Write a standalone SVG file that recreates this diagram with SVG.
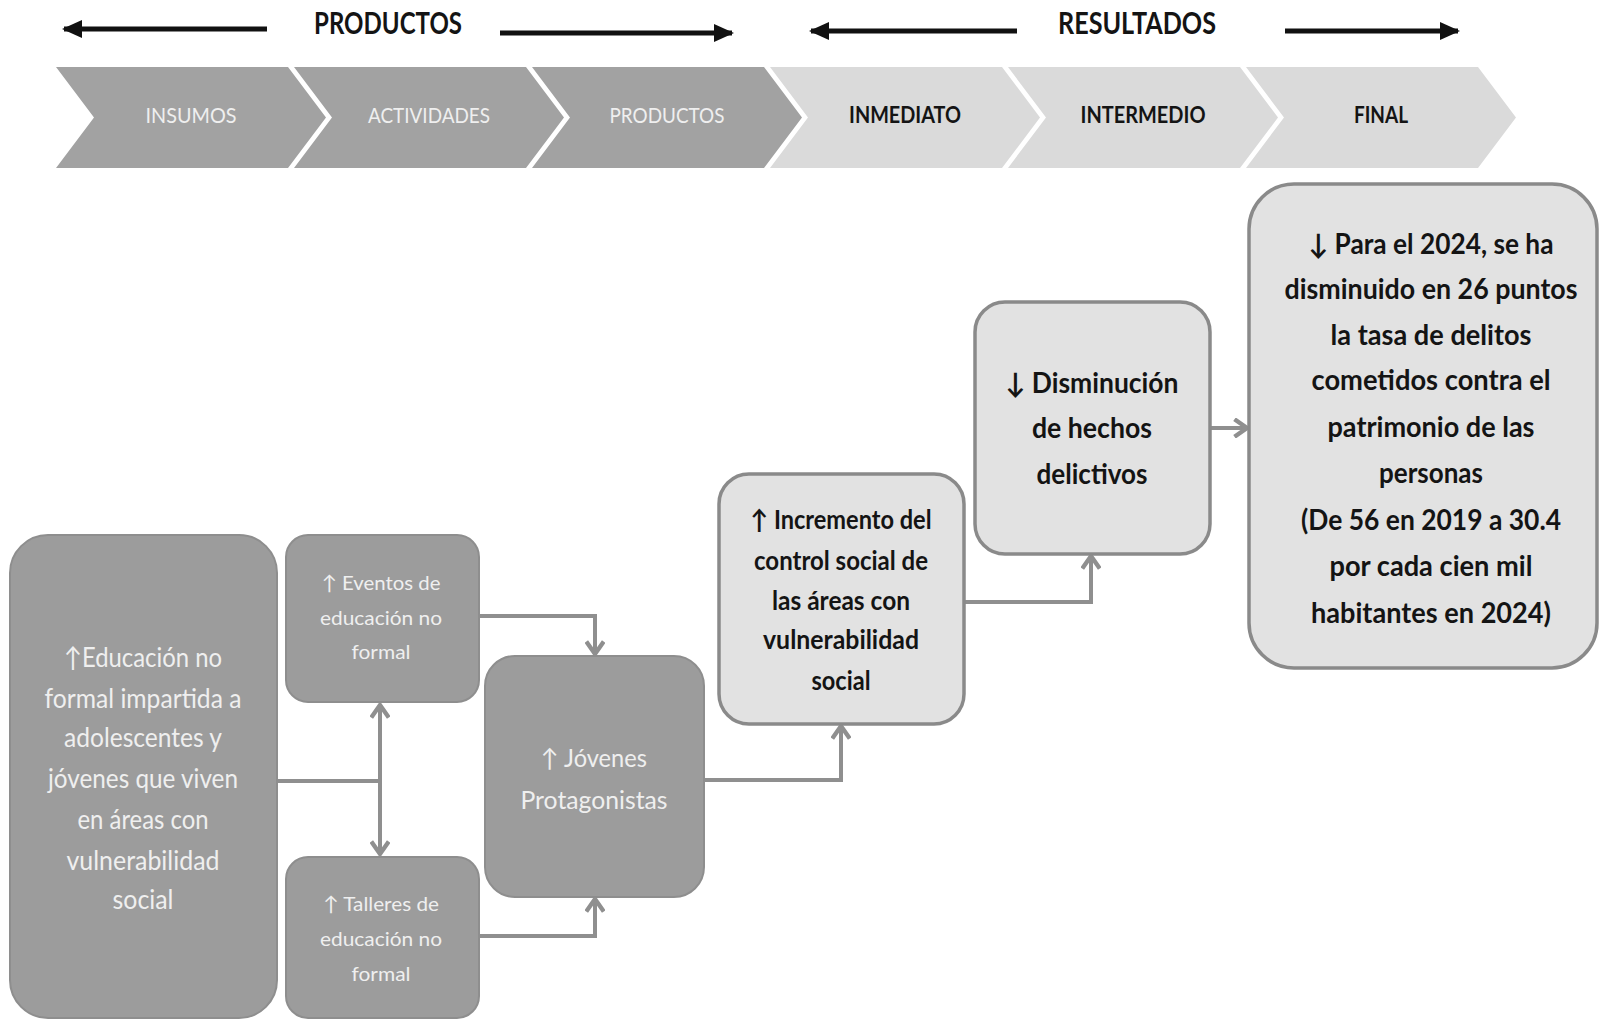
<svg xmlns="http://www.w3.org/2000/svg" width="1599" height="1020" viewBox="0 0 1599 1020">
<defs>
<style>
.dark{fill:#9c9c9c;stroke:#8e8e8e;stroke-width:2}
.light{fill:#e2e2e2;stroke:#8a8a8a;stroke-width:3.5}
.chevD{fill:#a2a2a2}
.chevL{fill:#dadada}
.tl{font-family:Lato,"Open Sans",sans-serif;fill:#efefef;text-anchor:middle}
.tb{font-family:Lato,"Open Sans",sans-serif;font-weight:bold;fill:#141414;text-anchor:middle}
.conn{fill:none;stroke:#8f8f8f;stroke-width:4}
.blk{fill:none;stroke:#111;stroke-width:5}
</style>
<marker id="ah" markerUnits="userSpaceOnUse" markerWidth="20" markerHeight="20" refX="12" refY="8" orient="auto-start-reverse" viewBox="0 0 16 16">
<path d="M2,1 L12,8 L2,15" fill="none" stroke="#8f8f8f" stroke-width="3.5"/>
</marker>
<marker id="bh" markerUnits="userSpaceOnUse" markerWidth="20" markerHeight="18" refX="18" refY="9" orient="auto-start-reverse" viewBox="0 0 20 18">
<path d="M0,0 L20,9 L0,18 Z" fill="#111"/>
</marker>
</defs>

<g id="header">
<path class="blk" d="M267,29 H64" marker-end="url(#bh)"/>
<text class="tb" x="388" y="34" font-size="30" textLength="148" lengthAdjust="spacingAndGlyphs">PRODUCTOS</text>
<path class="blk" d="M500,33 H732" marker-end="url(#bh)"/>
<path class="blk" d="M1017,31 H811" marker-end="url(#bh)"/>
<text class="tb" x="1137" y="34" font-size="30" textLength="158" lengthAdjust="spacingAndGlyphs">RESULTADOS</text>
<path class="blk" d="M1285,31 H1458" marker-end="url(#bh)"/>
</g>

<g id="chevrons">
<g id="chev-insumos"><polygon class="chevD" points="56,67 288,67 326,117.5 288,168 56,168 94,117.5"/><text class="tl" x="191" y="123" font-size="22" textLength="91" lengthAdjust="spacingAndGlyphs">INSUMOS</text></g>
<g id="chev-actividades"><polygon class="chevD" points="294,67 526,67 564,117.5 526,168 294,168 332,117.5"/><text class="tl" x="429" y="123" font-size="22" textLength="122" lengthAdjust="spacingAndGlyphs">ACTIVIDADES</text></g>
<g id="chev-productos"><polygon class="chevD" points="532,67 764,67 802,117.5 764,168 532,168 570,117.5"/><text class="tl" x="667" y="123" font-size="22" textLength="115" lengthAdjust="spacingAndGlyphs">PRODUCTOS</text></g>
<g id="chev-inmediato"><polygon class="chevL" points="770,67 1002,67 1040,117.5 1002,168 770,168 808,117.5"/><text class="tb" x="905" y="123" font-size="22" textLength="112" lengthAdjust="spacingAndGlyphs">INMEDIATO</text></g>
<g id="chev-intermedio"><polygon class="chevL" points="1008,67 1240,67 1278,117.5 1240,168 1008,168 1046,117.5"/><text class="tb" x="1143" y="123" font-size="22" textLength="125" lengthAdjust="spacingAndGlyphs">INTERMEDIO</text></g>
<g id="chev-final"><polygon class="chevL" points="1246,67 1478,67 1516,117.5 1478,168 1246,168 1284,117.5"/><text class="tb" x="1381" y="123" font-size="22" textLength="54" lengthAdjust="spacingAndGlyphs">FINAL</text></g>
</g>

<g id="connectors">
<path class="conn" d="M277,781 H380"/>
<path class="conn" d="M380,705 V854" marker-start="url(#ah)" marker-end="url(#ah)"/>
<path class="conn" d="M479,616 H595 V654" marker-end="url(#ah)"/>
<path class="conn" d="M479,936 H595 V899" marker-end="url(#ah)"/>
<path class="conn" d="M704,780 H841 V726" marker-end="url(#ah)"/>
<path class="conn" d="M964,602 H1091 V556" marker-end="url(#ah)"/>
<path class="conn" d="M1210,428 H1247" marker-end="url(#ah)"/>
</g>

<g id="n-educacion">
<rect class="dark" x="10" y="535" width="267" height="483" rx="38"/>
<text class="tl" x="143" y="667" font-size="27" textLength="158" lengthAdjust="spacingAndGlyphs">↑Educación no</text>
<text class="tl" x="143" y="708" font-size="27" textLength="197" lengthAdjust="spacingAndGlyphs">formal impartida a</text>
<text class="tl" x="143" y="747" font-size="27" textLength="158" lengthAdjust="spacingAndGlyphs">adolescentes y</text>
<text class="tl" x="143" y="788" font-size="27" textLength="190" lengthAdjust="spacingAndGlyphs">jóvenes que viven</text>
<text class="tl" x="143" y="829" font-size="27" textLength="131" lengthAdjust="spacingAndGlyphs">en áreas con</text>
<text class="tl" x="143" y="870" font-size="27" textLength="153" lengthAdjust="spacingAndGlyphs">vulnerabilidad</text>
<text class="tl" x="143" y="909" font-size="27" textLength="61" lengthAdjust="spacingAndGlyphs">social</text>
</g>

<g id="n-eventos">
<rect class="dark" x="286" y="535" width="193" height="167" rx="22"/>
<text class="tl" x="381" y="590" font-size="20" textLength="119" lengthAdjust="spacingAndGlyphs">↑ Eventos de</text>
<text class="tl" x="381" y="625" font-size="20" textLength="122" lengthAdjust="spacingAndGlyphs">educación no</text>
<text class="tl" x="381" y="659" font-size="20" textLength="59" lengthAdjust="spacingAndGlyphs">formal</text>
</g>

<g id="n-talleres">
<rect class="dark" x="286" y="857" width="193" height="161" rx="22"/>
<text class="tl" x="381" y="911" font-size="20" textLength="116" lengthAdjust="spacingAndGlyphs">↑ Talleres de</text>
<text class="tl" x="381" y="946" font-size="20" textLength="122" lengthAdjust="spacingAndGlyphs">educación no</text>
<text class="tl" x="381" y="981" font-size="20" textLength="59" lengthAdjust="spacingAndGlyphs">formal</text>
</g>

<g id="n-jovenes">
<rect class="dark" x="485" y="656" width="219" height="241" rx="30"/>
<text class="tl" x="594" y="767" font-size="25" textLength="106" lengthAdjust="spacingAndGlyphs">↑ Jóvenes</text>
<text class="tl" x="594" y="809" font-size="25" textLength="147" lengthAdjust="spacingAndGlyphs">Protagonistas</text>
</g>

<g id="n-incremento">
<rect class="light" x="719" y="474" width="245" height="250" rx="30"/>
<text class="tb" x="841" y="529" font-size="26" textLength="181" lengthAdjust="spacingAndGlyphs">↑ Incremento del</text>
<text class="tb" x="841" y="570" font-size="26" textLength="174" lengthAdjust="spacingAndGlyphs">control social de</text>
<text class="tb" x="841" y="610" font-size="26" textLength="138" lengthAdjust="spacingAndGlyphs">las áreas con</text>
<text class="tb" x="841" y="649" font-size="26" textLength="156" lengthAdjust="spacingAndGlyphs">vulnerabilidad</text>
<text class="tb" x="841" y="690" font-size="26" textLength="59" lengthAdjust="spacingAndGlyphs">social</text>
</g>

<g id="n-disminucion">
<rect class="light" x="975" y="302" width="235" height="252" rx="30"/>
<text class="tb" x="1092" y="393" font-size="28" textLength="173" lengthAdjust="spacingAndGlyphs">↓ Disminución</text>
<text class="tb" x="1092" y="438" font-size="28" textLength="120" lengthAdjust="spacingAndGlyphs">de hechos</text>
<text class="tb" x="1092" y="484" font-size="28" textLength="111" lengthAdjust="spacingAndGlyphs">delictivos</text>
</g>

<g id="n-final">
<rect class="light" x="1249" y="184" width="348" height="484" rx="45"/>
<text class="tb" x="1431" y="254" font-size="28" textLength="245" lengthAdjust="spacingAndGlyphs">↓ Para el 2024, se ha</text>
<text class="tb" x="1431" y="299" font-size="28" textLength="293" lengthAdjust="spacingAndGlyphs">disminuido  en 26 puntos</text>
<text class="tb" x="1431" y="345" font-size="28" textLength="201" lengthAdjust="spacingAndGlyphs">la tasa de delitos</text>
<text class="tb" x="1431" y="390" font-size="28" textLength="239" lengthAdjust="spacingAndGlyphs">cometidos contra el</text>
<text class="tb" x="1431" y="437" font-size="28" textLength="207" lengthAdjust="spacingAndGlyphs">patrimonio  de las</text>
<text class="tb" x="1431" y="483" font-size="28" textLength="104" lengthAdjust="spacingAndGlyphs">personas</text>
<text class="tb" x="1431" y="530" font-size="28" textLength="260" lengthAdjust="spacingAndGlyphs">(De 56 en 2019 a 30.4</text>
<text class="tb" x="1431" y="576" font-size="28" textLength="203" lengthAdjust="spacingAndGlyphs">por cada cien mil</text>
<text class="tb" x="1431" y="623" font-size="28" textLength="240" lengthAdjust="spacingAndGlyphs">habitantes  en 2024)</text>
</g>
</svg>
